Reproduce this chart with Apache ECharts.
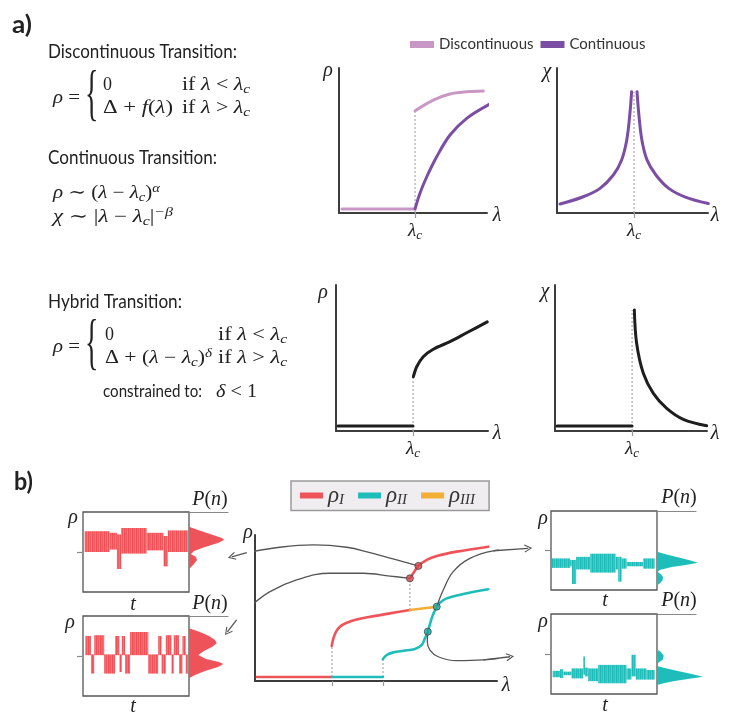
<!DOCTYPE html>
<html><head><meta charset="utf-8">
<script src="https://cdn.jsdelivr.net/npm/echarts@6/dist/echarts.min.js"></script>
<style>html,body{margin:0;padding:0;background:#fff}#c{width:748px;height:727px}</style>
</head><body><div id="c"></div>
<script>
// ---------------- DATA (axis units 0..100) ----------------
// panel a, top-left (rho vs lambda)
const lambdaCTop = 51.4;
const discFlat = [[2,2.8],[51.4,2.8]];
const discUpper = [[51.4,70.5],[63.7,77.9],[75,82.1],[86.3,83.6],[97.5,84.1]];
const contRho = [[51.4,2.8],[54.7,13.6],[59.3,25.0],[66.0,38.8],[75.0,53.8],[86.3,65.3],[102,75.2]];
const discDotted = [[51.4,0],[51.4,70.5]];
// panel a, top-right (chi vs lambda)
const lambdaCChi = 51;
const chiLeft = [[2.0,6.2],[17.4,11.2],[28.5,17.0],[37.3,26.2],[42.8,36.6],[46.2,50.3],[48.3,68.8],[49.4,83.7]];
const chiRight = [[53.0,83.7],[54.2,68],[56.2,50.3],[59.6,36.6],[65.5,26.2],[74,17.0],[85,11.0],[100.2,6.5]];
const chiDotted = [[51,0],[51,83.7]];
// panel a, hybrid
const lambdaCHyb = 50.7;
const hybRhoFlat = [[1.3,3.4],[50.7,3.4]];
const hybRho = [[50.9,37.2],[53.1,44.0],[57.4,50.9],[64.0,56.0],[75.0,61.2],[86.0,67.3],[99.5,74.7]];
const hybRhoDotted = [[50.7,0],[50.7,37.2]];
const hybChiFlat = [[1.3,3.4],[50.7,3.4]];
const hybChi = [[52.2,82.9],[53.7,60.1],[58.1,39.5],[64.7,25.8],[73.5,15.5],[84.4,8.0],[99.8,3.6]];
const hybChiDotted = [[50.7,0],[50.7,82.9]];
// panel b, middle
const midTicks = [31.8, 52.9];
const rhoIFlat = [[0.8,2.7],[31.8,2.7]];
const rhoIIFlat = [[31.8,2.7],[52.9,2.7]];
const rhoIMid = [[31.7,24.0],[32.4,29.2],[33.5,33.8],[35.1,37.2],[37.9,39.9],[42.0,42.2],[47.5,44.0],[55.8,46.3],[64.0,48.6]];
const rhoIII = [[64.0,48.6],[75.1,50.9]];
const rhoIUpper = [[64.0,70.3],[65.4,73.8],[67.5,78.8],[71.0,82.9],[75.1,85.6],[83.3,88.6],[96.4,92.0]];
const rhoII = [[52.8,14.9],[54.4,17.8],[57.2,19.6],[61.3,20.7],[66.1,21.9],[68.9,24.7],[70.2,29.2],[71.4,33.8],[73.0,42.9],[74.4,48.6],[75.1,50.9],[76.4,53.6],[79.2,56.6],[86.1,59.6],[96.4,62.8]];
const midDotted = [[[31.8,2.7],[31.8,24.0]],[[52.9,2.7],[52.9,14.9]],[[64.0,48.6],[64.0,70.3]]];
const transRed = [[67.5,78.8],[64.0,70.3]];
const transTeal = [[75.1,50.9],[71.4,33.8]];
const arrow1 = [[67.5,78.8],[58.6,82.9],[47.5,87.9],[37.9,91.6],[24.1,93.2],[10.3,91.6],[-3.4,87.9],[-9.6,85.1]];
const arrow2 = [[64.0,70.3],[55.8,71.9],[44.8,73.8],[31.0,73.8],[17.2,69.2],[6.2,61.2],[-2.1,50.9],[-7.6,41.8],[-11.4,33.6]];
const arrow3 = [[75.1,50.9],[77.8,62.3],[81.9,74.9],[88.8,84.0],[98.5,89.2],[112.9,90.9]];
const arrow4 = [[71.4,33.8],[71.2,26.9],[72.3,21.2],[75.7,16.6],[83.3,13.9],[94.3,14.4],[105.4,16.6]];
// time series bands: [t0, t1, low, high]
const box1Segs = [[1.6,25,50,76],[25,32,53,74],[32,36,28.75,72],[36,60,48,80],[60,76,52,74],[76,80,32,70],[80,99,50,77]];
const box2Segs = [[2.2,7.5,51,75],[7.5,10.6,28,52],[10.6,20,51,76],[20,30.3,28,52],[30.3,34.4,51,75],[34.4,36.6,30,52],[36.6,39.7,51,75],[39.7,44.4,28,52],[44.4,61.6,51,80],[61.6,70.9,28,52],[70.9,74.1,51,75],[74.1,78.1,28,52],[78.1,83.5,51,76],[83.5,85.6,28,52],[85.6,90.6,51,76],[90.6,93.8,28,52],[93.8,96.9,51,75],[96.9,99.1,28,52]];
const box3Segs = [[0.9,18,28,40],[18,19.7,30,38],[19.7,23.7,7.6,38],[23.7,37,26,42],[37,61,22,46],[61,63.4,26,42],[63.4,66.6,10.5,42],[66.6,71.3,27,40],[71.3,87,30,35.5],[87,97.8,27,40]];
const box4Segs = [[1.6,8.5,21,29],[8.5,11.6,20,31],[11.6,19.4,23.5,28],[19.4,30.4,19.5,32],[30.4,32,24,47],[32,35.1,22,33],[35.1,44.5,16,32],[44.5,71.2,13.4,36.4],[71.2,75.9,18,32],[75.9,80,22,49],[80,90,18,32],[90,97.8,18,30]];
const boxTick = [50];
// distributions P(n): [n, density]
const dist1 = [[81.6,0],[77.5,9],[72.5,21],[67.5,33],[65,35],[61.25,29],[56.25,16],[51.25,5],[47.5,2],[43.75,7],[40,8],[35,5],[28.75,0]];
const dist2 = [[84.6,0],[80,11],[75,20],[70,26],[65.9,27.7],[61.25,23],[56.25,15],[51.25,9.3],[46.25,17],[42.5,30],[40,34.3],[36.25,29],[31.25,16],[26.25,6],[22.1,0]];
const dist3 = [[48.3,0],[45.4,8.7],[41.6,20.7],[37.8,32.7],[34.4,41],[31.5,28.7],[29.0,14.7],[25.2,2.7],[22.7,0.7],[20.2,3.7],[16.4,6],[12.6,5.7],[8.8,3.2],[5.7,0]];
const dist4 = [[55.2,0],[52.7,3.7],[47.7,6.7],[42.7,5.7],[38.5,0.7],[35.1,0],[32.6,7.7],[28.9,20.7],[25.1,34.7],[21.7,46],[18.8,30.7],[16.3,17.7],[13.8,7.7],[11.3,0]];
const legendTop = ['Discontinuous','Continuous'];
const legendMid = ['ρI','ρII','ρIII'];

// ---------------- STYLE ----------------
const SERIF = "'Liberation Serif','DejaVu Serif',serif";
const SANS = "Lato,'Open Sans',sans-serif";
const AX = '#3d3d3d';
const C = {light:'#c997c6', dark:'#7b4ea3', black:'#1e1e1e', red:'#ef535a', teal:'#1fbdba', orange:'#f3ae36', dot:'#a9a9a9', arrow:'#555'};
const CHEV = 'path://M0,8 L6,0 L12,8 L10.6,8.7 L6,2.3 L1.4,8.7 Z';
const STREAK = [1,0.84,0.95,0.76,1,0.88,0.92,0.8];

const ctx = document.createElement('canvas').getContext('2d');
function fit(text, font, w){ ctx.font = font; return w / ctx.measureText(text).width; }
function streak(rgb){
  const cv = document.createElement('canvas'); cv.width = STREAK.length; cv.height = 2;
  const g = cv.getContext('2d');
  STREAK.forEach((a, i) => { g.fillStyle = 'rgba(' + rgb + ',' + a + ')'; g.fillRect(i, 0, 1, 2); });
  return {image: cv, repeat: 'repeat'};
}

const chart = echarts.init(document.getElementById('c'), null, {renderer:'canvas'});

const boxGrid = {show:true, borderColor:'#555', borderWidth:1.3, backgroundColor:'transparent'};
const grids = [
  {left:339, top:68, width:148, height:145},
  {left:557, top:68, width:151, height:145},
  {left:336, top:285, width:152, height:146},
  {left:555, top:285, width:152, height:146},
  {left:255, top:535, width:242, height:146},
  Object.assign({left:83, top:512, width:106, height:80}, boxGrid),
  Object.assign({left:83, top:616, width:106, height:80}, boxGrid),
  Object.assign({left:551, top:511, width:106, height:79}, boxGrid),
  Object.assign({left:551, top:614, width:106, height:80}, boxGrid),
  {left:189, top:512, width:39, height:80},
  {left:189, top:616, width:39, height:80},
  {left:657, top:511, width:39, height:79},
  {left:657, top:614, width:39, height:80}
].map(g => Object.assign({outerBoundsMode:'none', containLabel:false}, g));

const lamRich = {
  l:{fontFamily:SERIF, fontStyle:'italic', fontSize:19, lineHeight:22, color:'#222'},
  s:{fontFamily:SERIF, fontStyle:'italic', fontSize:13, lineHeight:12, verticalAlign:'bottom', color:'#222'}
};
function mainX(gi, lc, ticks){
  return {type:'value', gridIndex:gi, min:0, max:100,
    axisLine:{show:true, onZero:false, lineStyle:{color:AX, width:2}},
    axisTick:{show:true, customValues:ticks || [lc], length:5, lineStyle:{color:'#999', width:1.2}},
    axisLabel:{show: lc != null, customValues: lc != null ? [lc] : [], margin:7, formatter:()=>'{l|λ}{s|c}', rich:lamRich},
    splitLine:{show:false}};
}
function mainY(gi){
  return {type:'value', gridIndex:gi, min:0, max:100, axisLine:{show:true, onZero:false, lineStyle:{color:AX, width:2}},
    axisTick:{show:false}, axisLabel:{show:false}, splitLine:{show:false}};
}
function hiddenX(gi){ return {type:'value', gridIndex:gi, min:0, max:100, show:false}; }
function boxY(gi){
  return {type:'value', gridIndex:gi, min:0, max:100, axisLine:{show:false},
    axisTick:{show:true, customValues:boxTick, length:6, lineStyle:{color:'#888', width:1.2}},
    axisLabel:{show:false}, splitLine:{show:false}};
}
function distX(gi){
  return {type:'value', gridIndex:gi, min:0, max:39, position:'top', axisLine:{show:true, onZero:false, lineStyle:{color:'#888', width:1.2}},
    axisTick:{show:false}, axisLabel:{show:false}, splitLine:{show:false}};
}
function distY(gi){ return {type:'value', gridIndex:gi, min:0, max:100, show:false}; }

const xAxis = [mainX(0,lambdaCTop), mainX(1,lambdaCChi), mainX(2,lambdaCHyb), mainX(3,lambdaCHyb), mainX(4,null,midTicks),
  hiddenX(5), hiddenX(6), hiddenX(7), hiddenX(8), distX(9), distX(10), distX(11), distX(12)];
const yAxis = [mainY(0), mainY(1), mainY(2), mainY(3), mainY(4), boxY(5), boxY(6), boxY(7), boxY(8), distY(9), distY(10), distY(11), distY(12)];

function ln(gi, data, color, width, name, extra){
  return Object.assign({type:'line', name, xAxisIndex:gi, yAxisIndex:gi, data, symbol:'none', showSymbol:false,
    lineStyle:{color, width, cap:'round', join:'round'}, itemStyle:{color}, smooth:0.35, clip:false, silent:true, z:3}, extra||{});
}
function dotted(gi, data){
  return {type:'line', xAxisIndex:gi, yAxisIndex:gi, data, symbol:'none', lineStyle:{color:C.dot, width:1.2, type:[2,2]}, clip:false, silent:true, z:2};
}
function band(gi, segs, rgb){
  const pat = streak(rgb);
  return {type:'custom', xAxisIndex:gi, yAxisIndex:gi, data:segs, encode:{x:[0,1], y:[2,3]}, silent:true, clip:true,
    renderItem:(p, api) => {
      const a = api.coord([api.value(0), api.value(3)]), b = api.coord([api.value(1), api.value(2)]);
      return {type:'rect', shape:{x:a[0], y:a[1], width:b[0]-a[0], height:b[1]-a[1]}, style:{fill:pat}};
    }};
}
function dist(gi, pts, color){
  return {type:'custom', xAxisIndex:gi, yAxisIndex:gi, data:[0], silent:true, clip:false,
    renderItem:(p, api) => ({type:'polygon', shape:{points: pts.map(q => api.coord([q[1], q[0]]))}, style:{fill:color}})};
}
function arrow(data){
  const n = data.length;
  return [
    {type:'line', xAxisIndex:4, yAxisIndex:4, data, symbol:'none', smooth:0.4, clip:false, silent:true, z:4,
      lineStyle:{color:C.arrow, width:1.3}},
    {type:'lines', coordinateSystem:'cartesian2d', xAxisIndex:4, yAxisIndex:4, clip:false, silent:true, z:4,
      symbol:['none', CHEV], symbolSize:[12,8],
      lineStyle:{color:C.arrow, width:1.3, opacity:1}, data:[{coords:[data[n-2], data[n-1]]}]}
  ];
}

const series = [
  dotted(0, discDotted),
  ln(0, discFlat, C.light, 3, 'Discontinuous', {smooth:false}),
  ln(0, discUpper, C.light, 3, 'Discontinuous'),
  ln(0, contRho, C.dark, 3, 'Continuous'),
  dotted(1, chiDotted),
  ln(1, chiLeft, C.dark, 3, 'Continuous'),
  ln(1, chiRight, C.dark, 3, 'Continuous'),
  dotted(2, hybRhoDotted),
  ln(2, hybRhoFlat, C.black, 3, undefined, {smooth:false}),
  ln(2, hybRho, C.black, 3, undefined, {smooth:0.3}),
  dotted(3, hybChiDotted),
  ln(3, hybChiFlat, C.black, 3, undefined, {smooth:false}),
  ln(3, hybChi, C.black, 3),
  ...midDotted.map(d => dotted(4, d)),
  ln(4, rhoIFlat, C.red, 2.6, 'ρI', {smooth:false}),
  ln(4, rhoIIFlat, C.teal, 2.6, 'ρII', {smooth:false}),
  ln(4, rhoIMid, C.red, 2.6, 'ρI'),
  ln(4, rhoIUpper, C.red, 2.6, 'ρI'),
  ln(4, rhoII, C.teal, 2.6, 'ρII'),
  ln(4, rhoIII, C.orange, 2.6, 'ρIII', {smooth:false}),
  ...arrow(arrow1), ...arrow(arrow2), ...arrow(arrow3), ...arrow(arrow4),
  {type:'scatter', xAxisIndex:4, yAxisIndex:4, data:transRed, symbolSize:7, silent:true, z:6,
    itemStyle:{color:'#d9464d', borderColor:'#444', borderWidth:1}},
  {type:'scatter', xAxisIndex:4, yAxisIndex:4, data:transTeal, symbolSize:7, silent:true, z:6,
    itemStyle:{color:'#1aa6a3', borderColor:'#444', borderWidth:1}},
  band(5, box1Segs, '238,80,86'), band(6, box2Segs, '238,80,86'), band(7, box3Segs, '30,188,184'), band(8, box4Segs, '30,188,184'),
  dist(9, dist1, C.red), dist(10, dist2, C.red), dist(11, dist3, C.teal), dist(12, dist4, C.teal)
];

// ---------------- TEXT ----------------
const MFS = 18;
const mathRich = {
  i:{fontFamily:SERIF, fontStyle:'italic', fontSize:MFS, lineHeight:22, fill:'#222'},
  r:{fontFamily:SERIF, fontStyle:'normal', fontSize:MFS, lineHeight:22, fill:'#222'},
  sub:{fontFamily:SERIF, fontStyle:'italic', fontSize:12.5, lineHeight:12, verticalAlign:'bottom', fill:'#222'},
  sup:{fontFamily:SERIF, fontStyle:'italic', fontSize:12.5, lineHeight:12, verticalAlign:'top', fill:'#222'}
};
function richWidth(str, rich){
  let w = 0;
  str.replace(/\{(\w+)\|([^}]*)\}/g, (m, s, t) => {
    const st = rich[s];
    ctx.font = (st.fontStyle || 'normal') + ' ' + st.fontSize + 'px ' + st.fontFamily;
    w += ctx.measureText(t).width; return m;
  });
  return w;
}
function mt(x, y, text, w){
  const sx = w ? w / richWidth(text, mathRich) : 1;
  return {type:'text', x, y, scaleX:sx, silent:true, style:{text, rich:mathRich, align:'left', verticalAlign:'middle', textAlign:'left', textVerticalAlign:'middle', fill:'#222'}};
}
const labRich = {
  i:{fontFamily:SERIF, fontStyle:'italic', fontSize:20, lineHeight:24, fill:'#222'},
  r:{fontFamily:SERIF, fontSize:20, lineHeight:24, fill:'#222'}
};
function lab(x, y, t){
  return {type:'text', x, y, silent:true, style:{text:'{i|'+t+'}', rich:labRich, align:'center', verticalAlign:'middle', textAlign:'center', textVerticalAlign:'middle'}};
}
function pn(x, y){
  return {type:'text', x, y, silent:true, style:{text:'{i|P}{r|(}{i|n}{r|)}', rich:labRich, align:'center', verticalAlign:'middle', textAlign:'center', textVerticalAlign:'middle'}};
}
function sans(x, y, text, size, w, bold){
  const font = (bold?'bold ':'') + size + 'px ' + SANS;
  return {type:'text', x, y, scaleX: fit(text, font, w), silent:true,
    style:{text, font, fill:'#222', align:'left', verticalAlign:'middle', textAlign:'left', textVerticalAlign:'middle'}};
}
function brace(x, y){
  return {type:'text', x, y, scaleX:0.7, scaleY:1.55, silent:true, style:{text:'{', font:'300 40px '+SERIF, fill:'#222', align:'left', verticalAlign:'middle', textAlign:'left', textVerticalAlign:'middle'}};
}

const graphic = [
  sans(12, 25, 'a)', 25, 20, true),
  sans(14, 482, 'b)', 25, 19, true),
  sans(48, 52, 'Discontinuous Transition:', 19, 189),
  sans(48, 158, 'Continuous Transition:', 19, 169),
  sans(48, 302, 'Hybrid Transition:', 19, 134),
  sans(103, 392, 'constrained to:', 17, 99),
  mt(53, 98, '{i|ρ}{r| =}', 27), brace(85, 97),
  mt(103, 85, '{r|0}'), mt(182, 85, '{r|if }{i|λ}{r| < }{i|λ}{sub|c}', 68),
  mt(103, 108, '{r|Δ + }{i|f}{r|(}{i|λ}{r|)}', 70), mt(182, 108, '{r|if }{i|λ}{r| > }{i|λ}{sub|c}', 68),
  mt(53, 193, '{i|ρ}{r| ∼ (}{i|λ}{r| − }{i|λ}{sub|c}{r|)}{sup|α}', 107),
  mt(53, 217, '{i|χ}{r| ∼ |}{i|λ}{r| − }{i|λ}{sub|c}{r||}{sup|−β}', 120),
  mt(53, 347, '{i|ρ}{r| =}', 27), brace(85, 346),
  mt(105, 335, '{r|0}'), mt(218, 335, '{r|if }{i|λ}{r| < }{i|λ}{sub|c}', 69),
  mt(105, 358, '{r|Δ + (}{i|λ}{r| − }{i|λ}{sub|c}{r|)}{sup|δ}', 107), mt(218, 358, '{r|if }{i|λ}{r| > }{i|λ}{sub|c}', 69),
  mt(216, 392, '{i|δ}{r| < 1}', 41),
  lab(328, 71, 'ρ'), lab(497, 216, 'λ'), lab(547, 72, 'χ'), lab(715, 216, 'λ'),
  lab(323, 293, 'ρ'), lab(497, 434, 'λ'), lab(545, 292, 'χ'), lab(715, 434, 'λ'),
  lab(248, 533, 'ρ'), lab(506, 686, 'λ'),
  lab(73, 518, 'ρ'), lab(133, 605, 't'), lab(70, 623, 'ρ'), lab(133, 707, 't'),
  lab(543, 519, 'ρ'), lab(605, 601, 't'), lab(543, 622, 'ρ'), lab(605, 706, 't'),
  pn(210, 500), pn(210, 604), pn(679, 498), pn(679, 601)
];

const option = {
  animation:false,
  backgroundColor:'#fff',
  grid: grids, xAxis, yAxis, series, graphic,
  legend:[
    {data:legendTop, left:405, top:32, icon:'rect', itemWidth:24, itemHeight:7, itemGap:7, selectedMode:false,
      textStyle:{fontFamily:SANS, fontSize:15, color:'#333'}},
    {data:legendMid, left:291, top:481, icon:'rect', itemWidth:23, itemHeight:6, itemGap:14, selectedMode:false,
      padding:[3,14,3,9], backgroundColor:'#efedef', borderColor:'#9a9a9a', borderWidth:1.5, borderRadius:0,
      formatter: n => '{a|ρ}{b|' + n.slice(1) + '}',
      textStyle:{rich:{
        a:{fontFamily:SERIF, fontStyle:'italic', fontSize:23, lineHeight:24, color:'#333'},
        b:{fontFamily:SERIF, fontStyle:'italic', fontSize:15, lineHeight:13, verticalAlign:'bottom', color:'#333'}}}}
  ]
};
chart.setOption(option);
</script></body></html>
